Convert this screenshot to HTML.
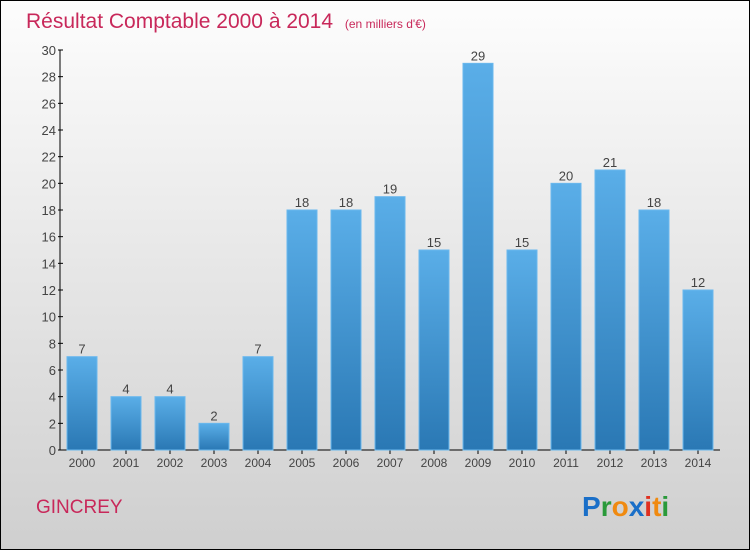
<!DOCTYPE html>
<html><head><meta charset="utf-8"><style>
body{margin:0;width:750px;height:550px;overflow:hidden;font-family:"Liberation Sans",sans-serif}
</style></head><body>
<svg width="750" height="550" xmlns="http://www.w3.org/2000/svg">
<defs>
<linearGradient id="bg" x1="0" y1="0" x2="0" y2="1"><stop offset="0" stop-color="#fdfdfd"/><stop offset="1" stop-color="#cfcfcf"/></linearGradient>
<linearGradient id="bar" x1="0" y1="0" x2="0" y2="1"><stop offset="0" stop-color="#5aaee8"/><stop offset="1" stop-color="#2a78b4"/></linearGradient>
</defs>
<rect x="0.5" y="0.5" width="749" height="549" fill="url(#bg)" stroke="#000"/>
<text x="26" y="28" font-size="21" fill="#c8285a">Résultat Comptable 2000 à 2014 <tspan font-size="12" dx="6">(en milliers d'€)</tspan></text>
<g id="axes"></g>
<g id="bars"></g>
<text x="36" y="513" font-size="19" fill="#c8285a">GINCREY</text>
<g font-size="28" font-weight="bold" font-family="Liberation Sans,sans-serif">
<text x="582" y="516"><tspan fill="#1a6fc8">P</tspan><tspan fill="#2a9a3a">r</tspan><tspan fill="#f08a10">o</tspan><tspan fill="#1a6fc8">x</tspan><tspan fill="#e03020">i</tspan><tspan fill="#f08a10">t</tspan><tspan fill="#2a9a3a">i</tspan></text>
</g>
</svg>
<script>
const years=["2000","2001","2002","2003","2004","2005","2006","2007","2008","2009","2010","2011","2012","2013","2014"];
const values=[7,4,4,2,7,18,18,19,15,29,15,20,21,18,12];
const yTicks=[0,2,4,6,8,10,12,14,16,18,20,22,24,26,28,30];
const NS="http://www.w3.org/2000/svg";
const y0=450,yTop=50,yMax=30,x0=82,step=44,bw=30;
const y=v=>y0-(v/yMax)*(y0-yTop);
const x=i=>x0+i*step;
function mk(t,a,p,txt){const e=document.createElementNS(NS,t);for(const k in a)e.setAttribute(k,a[k]);if(txt!==undefined)e.textContent=txt;p.appendChild(e);return e;}
const ax=document.getElementById('axes'),bg=document.getElementById('bars');
let l=mk('line',{x1:60,y1:y(yMax),x2:60,y2:y0,stroke:'#000'},ax);


l=mk('line',{x1:60,y1:y0,x2:720,y2:y0,stroke:'#000'},ax);


yTicks.forEach(v=>{
 mk('line',{x1:58,y1:y(v),x2:63,y2:y(v),stroke:'#000'},ax);
 const t=mk('text',{x:56,y:y(v)+5,'text-anchor':'end','font-size':13,fill:'#444'},ax,v);
 
 
});
years.forEach((yr,i)=>{
 const v=values[i];
 const r=mk('rect',{x:x(i)-bw/2,y:y(v),width:bw,height:y0-y(v),fill:'url(#bar)',stroke:'#6ab8ee','stroke-width':1},bg);
 
 
 const t=mk('text',{x:x(i),y:y(v)-3,'text-anchor':'middle','font-size':13,fill:'#444'},bg,v);
 
 
 mk('line',{x1:x(i),y1:y0,x2:x(i),y2:y0+4,stroke:'#000'},ax);
 const xl=mk('text',{x:x(i),y:467,'text-anchor':'middle','font-size':12,fill:'#444'},ax,yr);
 
 
});
</script>
</body></html>
